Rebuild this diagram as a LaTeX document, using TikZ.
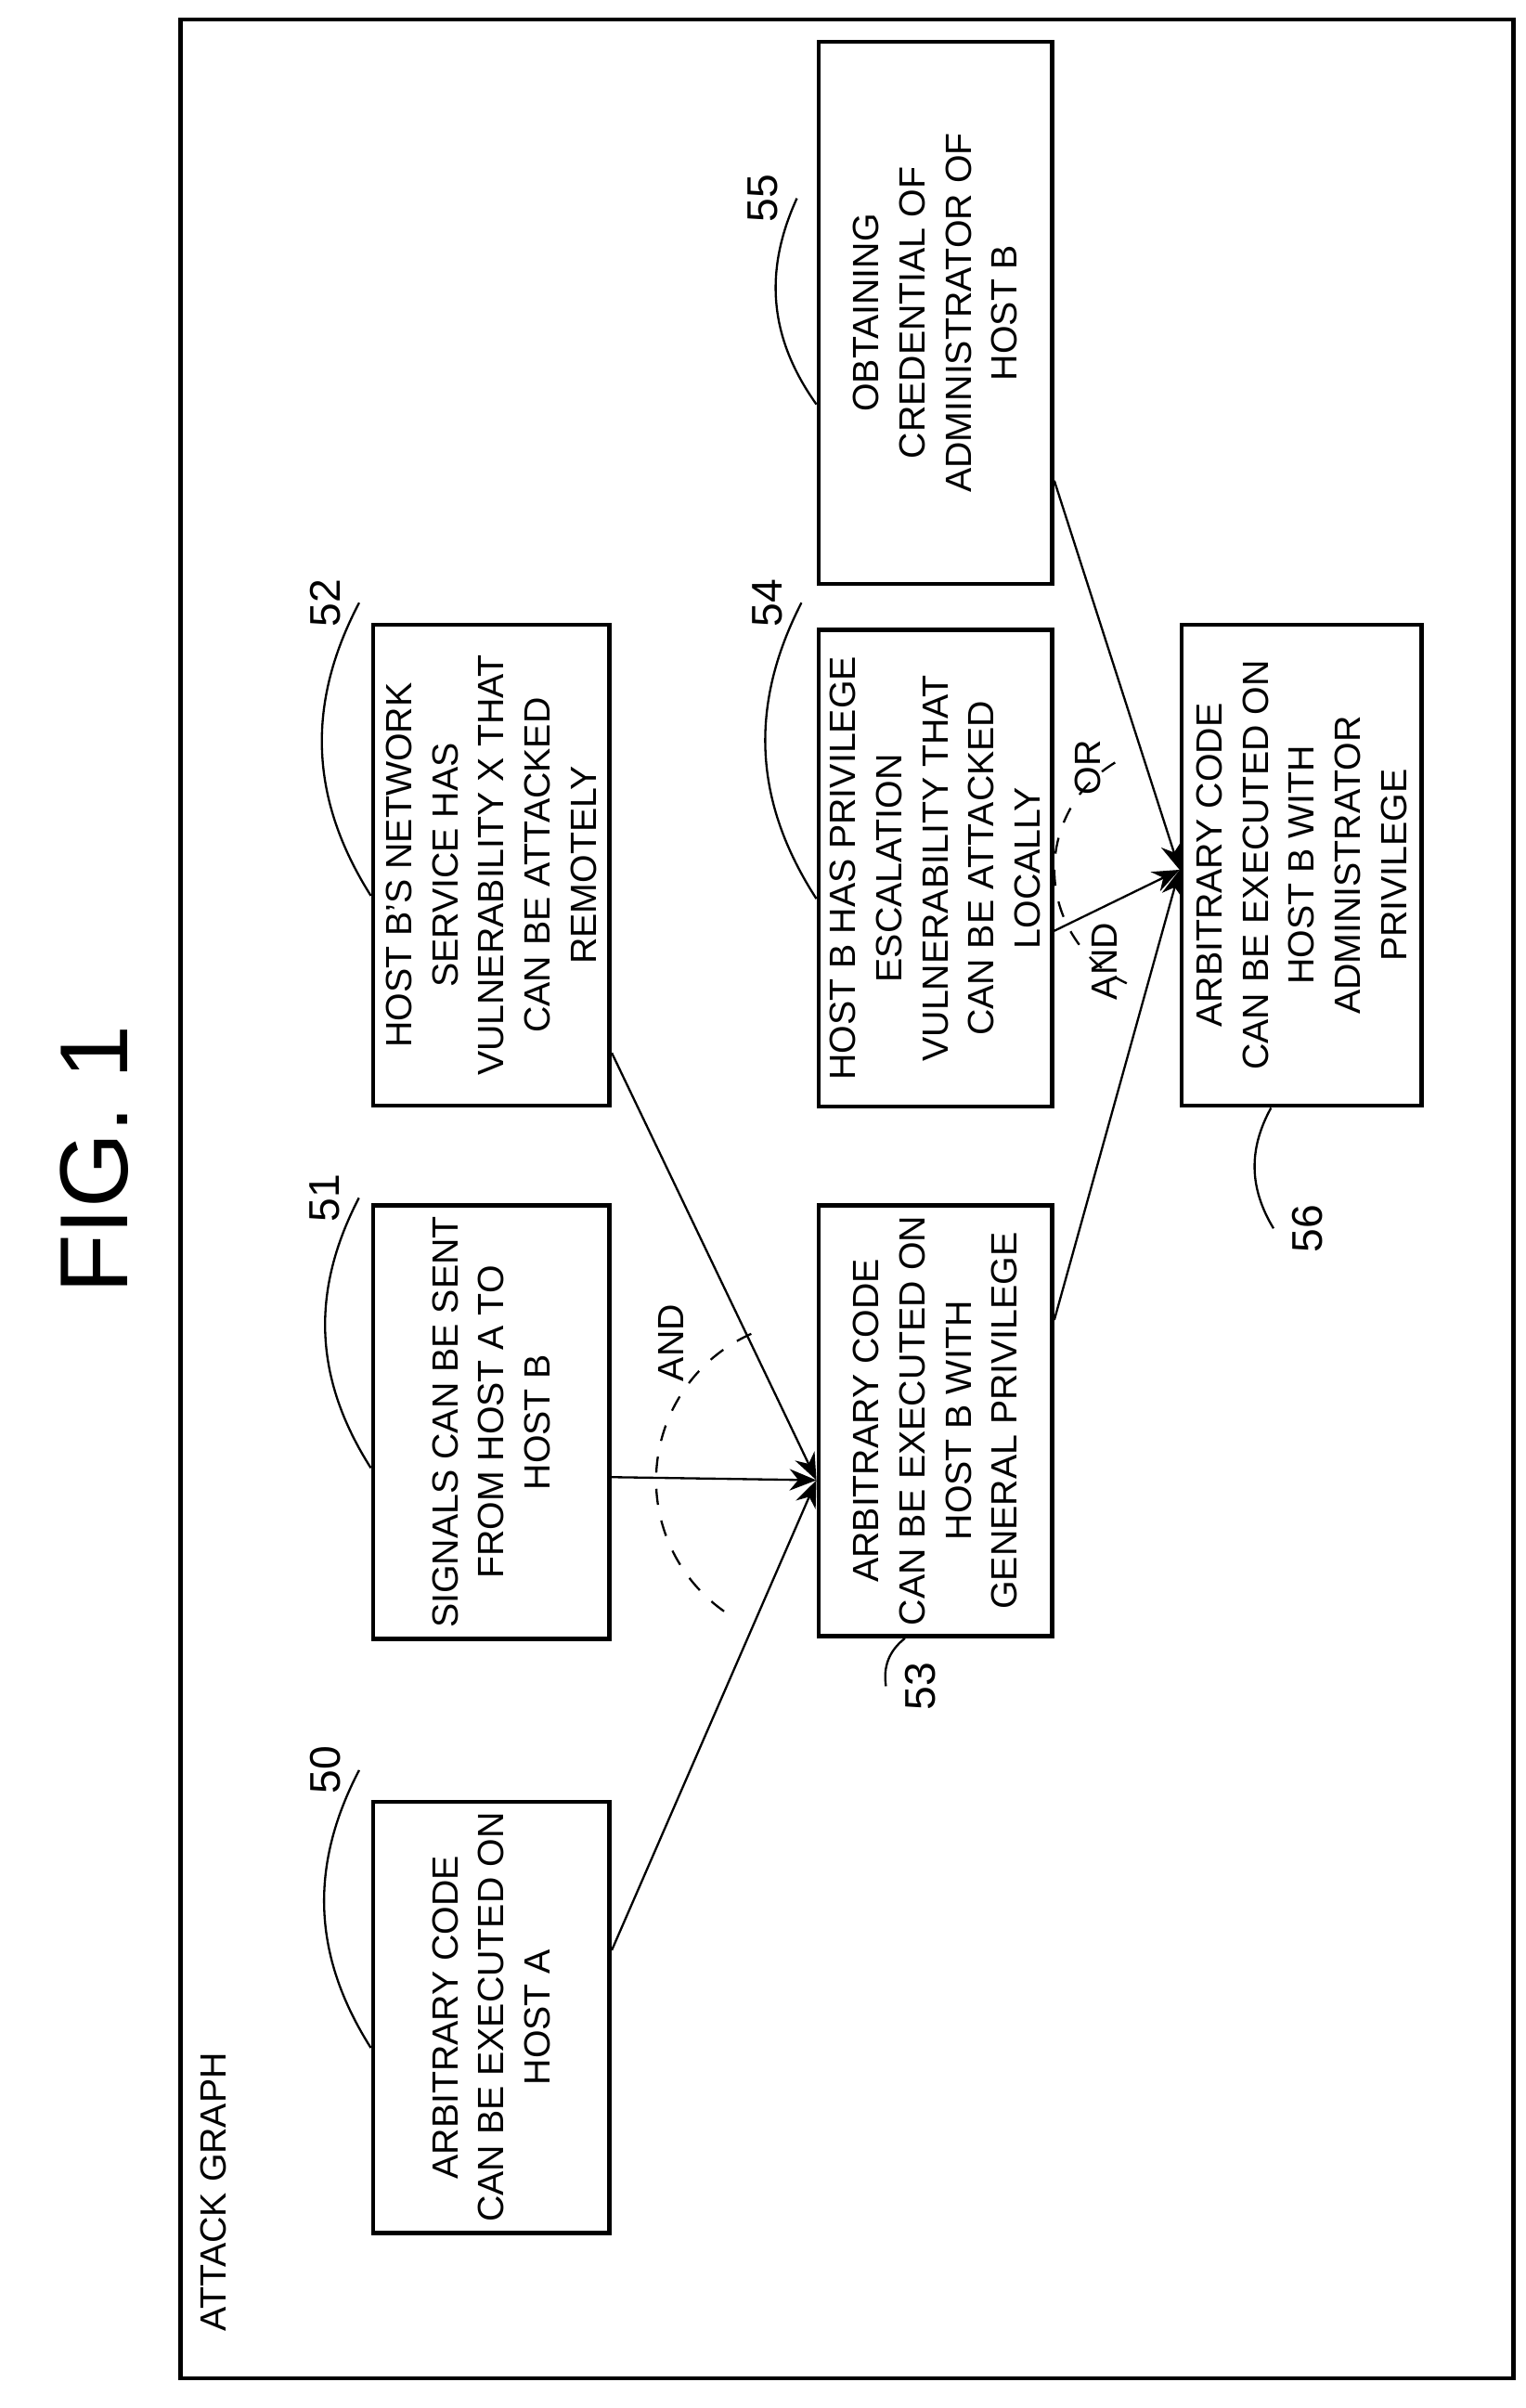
\documentclass[tikz,border=0pt]{standalone}
\usepackage{fontspec}
\setmainfont{Liberation Sans}
\usetikzlibrary{calc, arrows.meta}

\begin{document}
\begin{tikzpicture}[
        x=0.01cm, y=0.01cm,
        >={Stealth[length=5pt, width=4pt]},
        % Styles
        factbox/.style={rectangle, draw, thick, rotate=90, align=center, inner sep=2pt,
                font=\fontsize{6.8}{8.6}\selectfont},
        reflab/.style={rotate=90, font=\fontsize{8}{9}\selectfont},
        leader/.style={thin},
        arrow/.style={->, thin},
        gatearc/.style={thin, dashed},
        gatelab/.style={rotate=90, font=\fontsize{6.8}{8}\selectfont}, ]

        \useasboundingbox (0,0) rectangle (1000,1578);

        % === FRAME ===
        \node[draw, thick, minimum width=8.73cm, minimum height=15.45cm, anchor=south west] (frame) at (117,18) {};
        \node[rotate=90, font=\fontsize{18}{20}\selectfont] (title) at (62,818) {FIG. 1};
        \node[rotate=90, anchor=west, font=\fontsize{6.8}{8}\selectfont] (graphlab) at (140,38) {ATTACK GRAPH};

        % === FACTS ===
        \node[factbox, minimum width=2.79cm, minimum height=1.55cm] (n50) at (322,256) {ARBITRARY CODE\\CAN BE EXECUTED ON\\HOST A};
        \node[factbox, minimum width=2.60cm, minimum height=1.55cm] (n51) at (322,646) {SIGNALS CAN BE SENT\\FROM HOST A TO\\HOST B};
        \node[factbox, minimum width=3.15cm, minimum height=1.55cm] (n52) at (322,1011) {HOST B'S NETWORK\\SERVICE HAS\\VULNERABILITY X THAT\\CAN BE ATTACKED\\REMOTELY};
        \node[factbox, minimum width=2.62cm, minimum height=1.53cm] (n53) at (613,647) {ARBITRARY CODE\\CAN BE EXECUTED ON\\HOST B WITH\\GENERAL PRIVILEGE};
        \node[factbox, minimum width=3.12cm, minimum height=1.53cm] (n54) at (613,1009) {HOST B HAS PRIVILEGE\\ESCALATION\\VULNERABILITY THAT\\CAN BE ATTACKED\\LOCALLY};
        \node[factbox, minimum width=3.55cm, minimum height=1.53cm] (n55) at (613,1373) {OBTAINING\\CREDENTIAL OF\\ADMINISTRATOR OF\\HOST B};
        \node[factbox, minimum width=3.15cm, minimum height=1.57cm] (n56) at (853,1011) {ARBITRARY CODE\\CAN BE EXECUTED ON\\HOST B WITH\\ADMINISTRATOR\\PRIVILEGE};

        % Input points
        \coordinate (in53) at ($(n53.north)+(0,-39)$);
        \coordinate (in56) at ($(n56.north)+(0,-3)$);

        % Connections
        \draw[arrow] ($(n50.south)+(0,44)$) -- (in53);
        \draw[arrow] ($(n51.south)+(0,-36)$) -- (in53);
        \draw[arrow] ($(n52.south)+(0,-123)$) -- (in53);
        \draw[arrow] ($(n53.south)+(0,66)$) -- (in56);
        \draw[arrow] ($(n54.south)+(0,-41)$) -- (in56);
        \draw[arrow] ($(n55.south)+(0,-110)$) -- (in56);

        % Gates
        \draw[gatearc] ($(in53)+(114:105)$) arc[start angle=114, end angle=238, radius=1.05cm];
        \node[gatelab] (and1) at (440,698) {AND};
        \draw[gatearc] ($(in56)+(121:82)$) arc[start angle=121, end angle=245, radius=0.82cm];
        \node[gatelab] (and2) at (724,948) {AND};
        \node[gatelab] (or1) at (713,1075) {OR};

        % Reference numerals
        \node[reflab] (r50) at (213,418) {50};
        \node[reflab] (r51) at (213,793) {51};
        \node[reflab] (r52) at (213,1183) {52};
        \node[reflab] (r53) at (603,473) {53};
        \node[reflab] (r54) at (503,1183) {54};
        \node[reflab] (r55) at (500,1448) {55};
        \node[reflab] (r56) at (857,773) {56};

        \draw[leader] (r50.south) to[bend right=30] ($(n50.north)+(0,-20)$);
        \draw[leader] (r51.south) to[bend right=30] ($(n51.north)+(0,-30)$);
        \draw[leader] (r52.south) to[bend right=30] ($(n52.north)+(0,-20)$);
        \draw[leader] (r53.north) to[bend left=30] ($(n53.west)+(-20,0)$);
        \draw[leader] (r54.south) to[bend right=30] ($(n54.north)+(0,-20)$);
        \draw[leader] (r55.south) to[bend right=30] ($(n55.north)+(0,-60)$);
        \draw[leader] (r56.north) to[bend left=30] ($(n56.west)+(-20,0)$);

    \end{tikzpicture}
\end{document}
